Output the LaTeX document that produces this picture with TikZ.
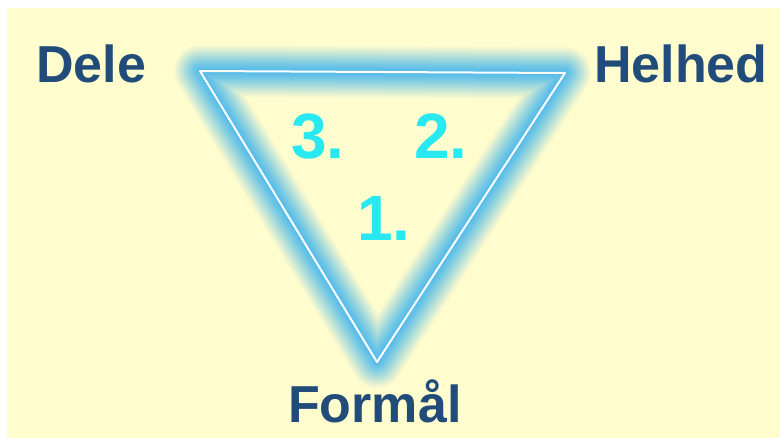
\documentclass[tikz,border=0pt]{standalone}
\usepackage{fontspec}
\setmainfont{Liberation Sans}
\usepackage{tikz}
\usetikzlibrary{positioning, calc}
\definecolor{paleyellow}{RGB}{255, 252, 206}
\definecolor{labelblue}{RGB}{33, 76, 122}
\definecolor{glowblue}{RGB}{45, 175, 245}
\definecolor{numcyan}{RGB}{40, 232, 242}
\tikzset{
  cornerlabel/.style={anchor=base west, inner sep=0pt, text=labelblue, font=\fontsize{52}{52}\selectfont\bfseries},
  steplabel/.style={anchor=base west, inner sep=0pt, text=numcyan, font=\fontsize{64}{64}\selectfont\bfseries},
  glowline/.style={draw=glowblue, line join=round, line cap=round},
  edgeline/.style={draw=white, line width=2pt, line join=round},
}

\begin{document}
\begin{tikzpicture}[x=1pt, y=-1pt]
  % page and background
  \useasboundingbox (0,0) rectangle (780,437);
  \fill[white] (-5,-5) rectangle (790,447);
  \fill[paleyellow] (7,8) rectangle (790,447);
  % triangle corners
  \coordinate (dl) at (200,71);
  \coordinate (hh) at (565,73);
  \coordinate (fm) at (377,362);
  % glow round the triangle
  \foreach \w in {52,49,...,4}{
    \pgfmathsetmacro\o{0.035+0.10*(52-\w)/48}
    \draw[glowline, line width=\w pt, opacity=\o] (dl) -- (hh) -- (fm) -- cycle;
  }
  \draw[edgeline] (dl) -- (hh) -- (fm) -- cycle;
  % labels
  \node[cornerlabel] (dele) at (36,82) {Dele};
  \node[cornerlabel] (helhed) at (594,82) {Helhed};
  \node[cornerlabel] (formaal) at (288,422) {Formål};
  \node[steplabel] (three) at (291,158) {3.};
  \node[steplabel] (two) at (414,158) {2.};
  \node[steplabel] (one) at (357,240) {1.};
\end{tikzpicture}
\end{document}
